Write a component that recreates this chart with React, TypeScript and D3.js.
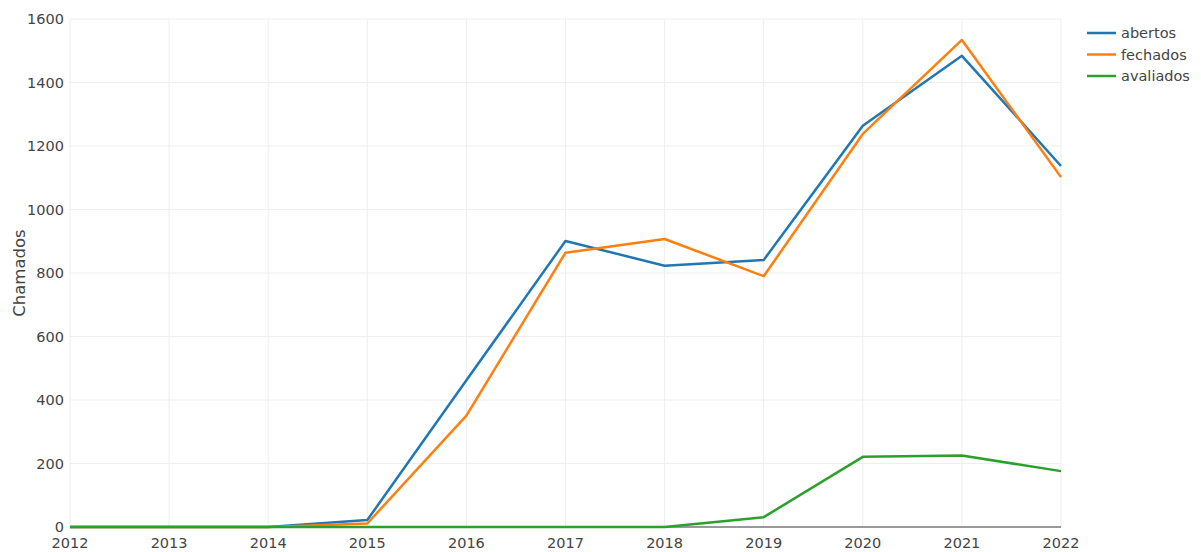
import React from "react";
import * as d3 from "d3";

const years = [2012, 2013, 2014, 2015, 2016, 2017, 2018, 2019, 2020, 2021, 2022];
const abertos = [0, 0, 0, 22, 462, 901, 823, 841, 1264, 1484, 1137];
const fechados = [0, 0, 0, 11, 351, 864, 907, 790, 1238, 1534, 1102];
const avaliados = [0, 0, 0, 0, 0, 0, 0, 31, 221, 225, 176];
const yTicks = [0, 200, 400, 600, 800, 1000, 1200, 1400, 1600];
const seriesNames = ["abertos", "fechados", "avaliados"];
const colors = ["#1f77b4", "#ff7f0e", "#2ca02c"];

const W = 1201, H = 552;
const left = 70, right = 1061, top = 19, bottom = 527;

export default function App() {
  const x = d3.scaleLinear().domain([2012, 2022]).range([left, right]);
  const y = d3.scaleLinear().domain([0, 1600]).range([bottom, top]);
  const line = d3.line<number>().x((_, i) => x(years[i])).y((d) => y(d));
  const data = [abertos, fechados, avaliados];
  const font = "'DejaVu Sans', Verdana, sans-serif";
  return (
    <svg width={W} height={H} style={{ position: "absolute", left: 0, top: 0, background: "#fff" }} fontFamily={font}>
      {years.map((yr) => (
        <line key={"gx" + yr} x1={x(yr)} x2={x(yr)} y1={top} y2={bottom} stroke="#eee" strokeWidth={1} />
      ))}
      {yTicks.map((t) => (
        <line key={"gy" + t} x1={left} x2={right} y1={y(t)} y2={y(t)} stroke="#eee" strokeWidth={1} />
      ))}
      <line x1={left} x2={right} y1={y(0)} y2={y(0)} stroke="#999" strokeWidth={2} />
      {data.map((d, i) => (
        <path key={seriesNames[i]} d={line(d) || ""} fill="none" stroke={colors[i]} strokeWidth={2.5} strokeLinejoin="round" />
      ))}
      {yTicks.map((t) => (
        <text key={"ty" + t} x={left - 6} y={y(t)} dy="0.36em" textAnchor="end" fontSize={14.5} fill="#444">
          {t}
        </text>
      ))}
      {years.map((yr) => (
        <text key={"tx" + yr} x={x(yr)} y={bottom + 21} textAnchor="middle" fontSize={14.5} fill="#444">
          {yr}
        </text>
      ))}
      <text transform={`translate(25, ${(top + bottom) / 2}) rotate(-90)`} textAnchor="middle" fontSize={16.5} fill="#444">
        Chamados
      </text>
      {seriesNames.map((n, i) => (
        <g key={"lg" + n} transform={`translate(1087, ${33 + i * 21.5})`}>
          <line x1={0} x2={29} y1={0} y2={0} stroke={colors[i]} strokeWidth={2.5} />
          <text x={34} y={0} dy="0.36em" fontSize={14.5} fill="#444">
            {n}
          </text>
        </g>
      ))}
    </svg>
  );
}
